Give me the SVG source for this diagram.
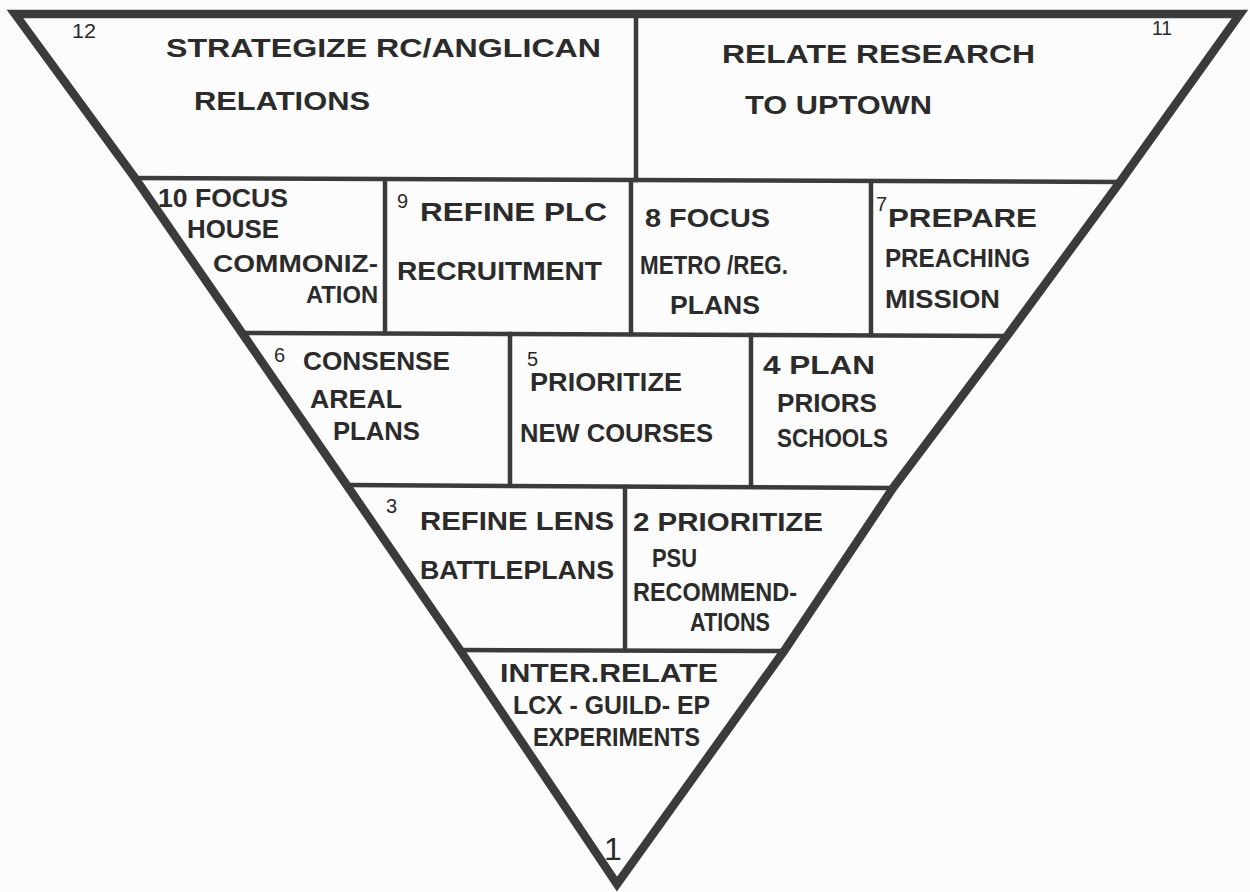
<svg xmlns="http://www.w3.org/2000/svg" width="1250" height="892" viewBox="0 0 1250 892">
<style>
.frame{fill:none;stroke:#3b3b3b;stroke-width:8.5;stroke-linejoin:miter}
.div{stroke:#3b3b3b;stroke-width:4.5;stroke-linecap:square}
text{font-family:"Liberation Sans","DejaVu Sans",sans-serif;fill:#2b2b2b;font-size:26px;font-weight:bold}
.s{font-size:23px}
.n{font-size:20px;font-weight:normal}
.big{font-size:32px;font-weight:normal}
</style>
<rect width="1250" height="892" fill="#fcfcfc"/>
<g id="connectors">
<polygon class="frame" points="15,14 1240,14 1120,182 1007,336 893,488 784,651 617,884 460,650 348,487 242,333 135,178"/>
<line class="div" x1="636" y1="14" x2="636" y2="180"/>
<line class="div" x1="135" y1="178" x2="1120" y2="182"/>
<line class="div" x1="385" y1="180" x2="385" y2="333"/>
<line class="div" x1="631" y1="181" x2="631" y2="334"/>
<line class="div" x1="871" y1="182" x2="871" y2="335"/>
<line class="div" x1="242" y1="333" x2="1007" y2="336"/>
<line class="div" x1="510" y1="334" x2="510" y2="484"/>
<line class="div" x1="751" y1="335" x2="751" y2="485"/>
<line class="div" x1="348" y1="485" x2="893" y2="488"/>
<line class="div" x1="625" y1="487" x2="625" y2="650"/>
<line class="div" x1="460" y1="650" x2="784" y2="651"/>
</g>
<g id="node12">
<text class="n" x="72" y="38" textLength="24" lengthAdjust="spacingAndGlyphs">12</text>
<text x="166" y="57" textLength="435" lengthAdjust="spacingAndGlyphs">STRATEGIZE RC/ANGLICAN</text>
<text x="194" y="110" textLength="176" lengthAdjust="spacingAndGlyphs">RELATIONS</text>
</g>
<g id="node11">
<text x="722" y="63" textLength="313" lengthAdjust="spacingAndGlyphs">RELATE RESEARCH</text>
<text x="745" y="114" textLength="187" lengthAdjust="spacingAndGlyphs">TO UPTOWN</text>
<text class="n" x="1152" y="35" textLength="20" lengthAdjust="spacingAndGlyphs" font-weight="bold">11</text>
</g>
<g id="node10">
<text x="158" y="207" textLength="130" lengthAdjust="spacingAndGlyphs">10 FOCUS</text>
<text x="187" y="238" textLength="92" lengthAdjust="spacingAndGlyphs">HOUSE</text>
<text class="s" x="213" y="272" textLength="165" lengthAdjust="spacingAndGlyphs">COMMONIZ-</text>
<text class="s" x="306" y="303" textLength="72" lengthAdjust="spacingAndGlyphs">ATION</text>
</g>
<g id="node9">
<text class="n" x="397" y="208">9</text>
<text x="420" y="221" textLength="187" lengthAdjust="spacingAndGlyphs">REFINE PLC</text>
<text x="397" y="280" textLength="205" lengthAdjust="spacingAndGlyphs">RECRUITMENT</text>
</g>
<g id="node8">
<text x="645" y="227" textLength="125" lengthAdjust="spacingAndGlyphs">8 FOCUS</text>
<text x="640" y="274" textLength="148" lengthAdjust="spacingAndGlyphs">METRO /REG.</text>
<text x="670" y="314" textLength="90" lengthAdjust="spacingAndGlyphs">PLANS</text>
</g>
<g id="node7">
<text class="n" x="876" y="211">7</text>
<text x="888" y="227" textLength="149" lengthAdjust="spacingAndGlyphs">PREPARE</text>
<text x="885" y="267" textLength="145" lengthAdjust="spacingAndGlyphs">PREACHING</text>
<text x="885" y="308" textLength="115" lengthAdjust="spacingAndGlyphs">MISSION</text>
</g>
<g id="node6">
<text class="n" x="274" y="362" font-size="21">6</text>
<text x="303" y="370" textLength="147" lengthAdjust="spacingAndGlyphs">CONSENSE</text>
<text x="310" y="408" textLength="92" lengthAdjust="spacingAndGlyphs">AREAL</text>
<text x="333" y="440" textLength="87" lengthAdjust="spacingAndGlyphs">PLANS</text>
</g>
<g id="node5">
<text class="n" x="527" y="366">5</text>
<text x="530" y="391" textLength="152" lengthAdjust="spacingAndGlyphs">PRIORITIZE</text>
<text x="520" y="442" textLength="193" lengthAdjust="spacingAndGlyphs">NEW COURSES</text>
</g>
<g id="node4">
<text x="763" y="374" textLength="112" lengthAdjust="spacingAndGlyphs">4 PLAN</text>
<text x="777" y="412" textLength="100" lengthAdjust="spacingAndGlyphs">PRIORS</text>
<text x="777" y="447" textLength="111" lengthAdjust="spacingAndGlyphs">SCHOOLS</text>
</g>
<g id="node3">
<text class="n" x="386" y="513">3</text>
<text x="420" y="530" textLength="194" lengthAdjust="spacingAndGlyphs">REFINE LENS</text>
<text x="420" y="579" textLength="194" lengthAdjust="spacingAndGlyphs">BATTLEPLANS</text>
</g>
<g id="node2">
<text x="633" y="531" textLength="190" lengthAdjust="spacingAndGlyphs">2 PRIORITIZE</text>
<text x="652" y="567" textLength="45" lengthAdjust="spacingAndGlyphs">PSU</text>
<text x="633" y="601" textLength="164" lengthAdjust="spacingAndGlyphs">RECOMMEND-</text>
<text x="690" y="631" textLength="80" lengthAdjust="spacingAndGlyphs">ATIONS</text>
</g>
<g id="node1">
<text x="500" y="682" textLength="218" lengthAdjust="spacingAndGlyphs">INTER.RELATE</text>
<text x="513" y="714" textLength="197" lengthAdjust="spacingAndGlyphs">LCX - GUILD- EP</text>
<text x="533" y="746" textLength="167" lengthAdjust="spacingAndGlyphs">EXPERIMENTS</text>
<text class="big" x="604" y="860">1</text>
</g>
</svg>
